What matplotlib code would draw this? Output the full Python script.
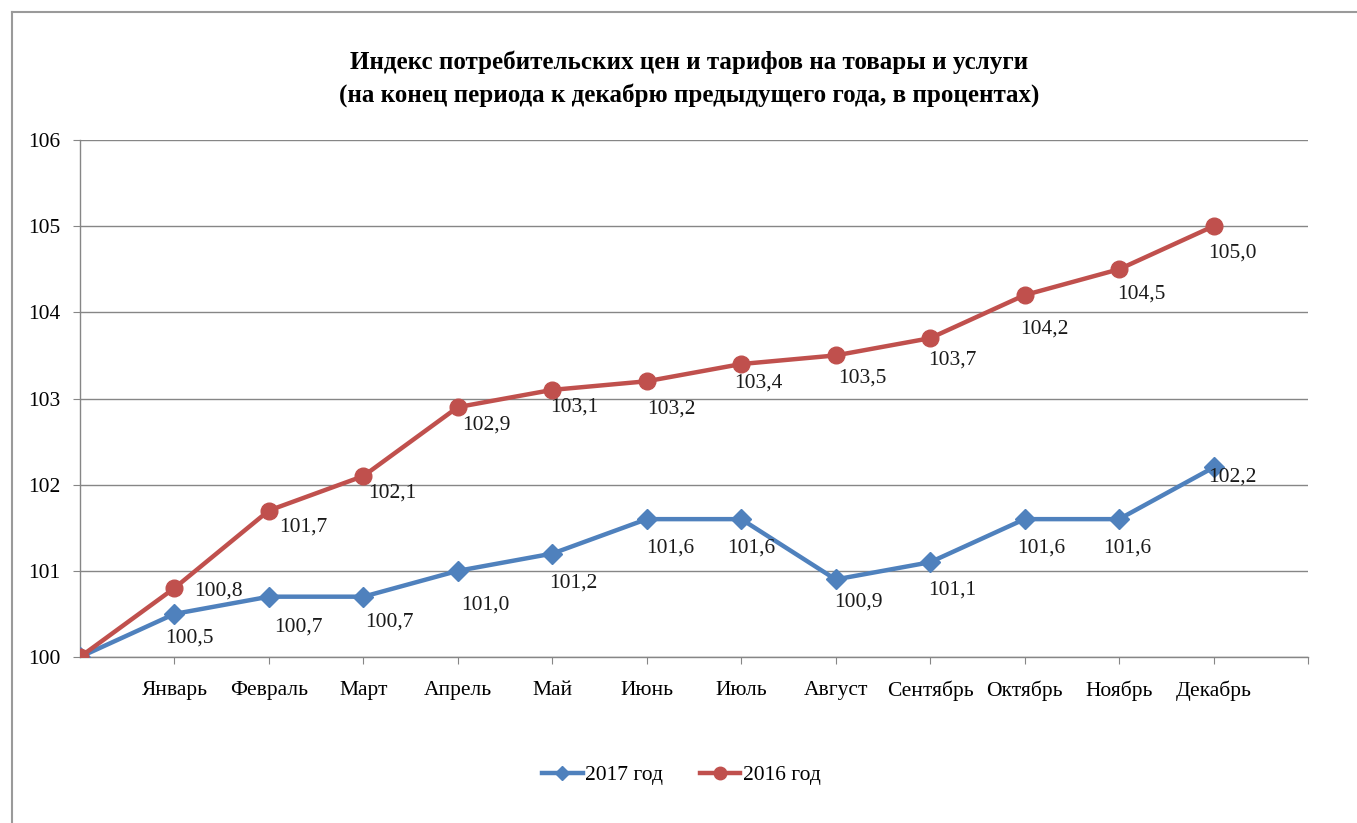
import matplotlib.pyplot as plt
from matplotlib.lines import Line2D

plt.rcParams['font.family'] = ['Liberation Serif', 'DejaVu Serif']

months = ['Январь', 'Февраль', 'Март', 'Апрель', 'Май', 'Июнь',
          'Июль', 'Август', 'Сентябрь', 'Октябрь', 'Ноябрь', 'Декабрь']
y2017 = [100.0, 100.5, 100.7, 100.7, 101.0, 101.2, 101.6, 101.6, 100.9, 101.1, 101.6, 101.6, 102.2]
y2016 = [100.0, 100.8, 101.7, 102.1, 102.9, 103.1, 103.2, 103.4, 103.5, 103.7, 104.2, 104.5, 105.0]

# label offsets in pixels (dx, dy), one per month
off2017 = [(15, -24), (29, -30), (26, -25), (28, -34), (21, -29), (23, -29),
           (10, -29), (23, -23), (22, -28), (17, -29), (8, -29), (19, -10)]
off2016 = [(44, -3), (34, -17), (29, -17), (29, -18), (22, -17), (25, -28),
           (17, -19), (27, -23), (22, -22), (20, -34), (22, -25), (19, -27)]

blue = '#4F81BD'
red = '#C0504D'
grid = '#868686'
fs = 15.5

fig = plt.figure(figsize=(13.57, 8.23), dpi=100)
ax = fig.add_axes([80/1357, 1-657/823, 1228/1357, 517/823])

x = list(range(len(y2017)))
ax.plot(x, y2017, color=blue, lw=3.2, marker='D', ms=10, zorder=3, label='2017 год')
ax.plot(x, y2016, color=red, lw=3.2, marker='o', ms=12, zorder=4, label='2016 год')

for i in range(1, len(x)):
    ax.annotate(f'{y2017[i]:.1f}'.replace('.', ','), (x[i], y2017[i]),
                xytext=off2017[i-1], textcoords='offset pixels',
                ha='center', va='center', fontsize=fs, color='#1a1a1a')
    ax.annotate(f'{y2016[i]:.1f}'.replace('.', ','), (x[i], y2016[i]),
                xytext=off2016[i-1], textcoords='offset pixels',
                ha='center', va='center', fontsize=fs, color='#1a1a1a')

ax.set_xlim(0, 13)
ax.set_ylim(100, 106)
ax.set_yticks(range(100, 107))
ax.set_xticks(range(1, 14))
ax.set_xticklabels(months + [''])
ax.tick_params(axis='x', length=5, color=grid, labelsize=fs, pad=12)
ax.tick_params(axis='y', length=5, color=grid, labelsize=fs, pad=9)
ax.grid(axis='y', color=grid, lw=1)
ax.set_axisbelow(True)
for s in ['top', 'right']:
    ax.spines[s].set_visible(False)
for s in ['left', 'bottom']:
    ax.spines[s].set_color(grid)
    ax.spines[s].set_linewidth(1)

fig.text(0.508, 1-62/823, 'Индекс потребительских цен и тарифов на товары и услуги',
         ha='center', va='center', fontsize=18, fontweight='bold')
fig.text(0.508, 1-95/823, '(на конец периода к декабрю предыдущего года, в процентах)',
         ha='center', va='center', fontsize=18, fontweight='bold')

handles = [Line2D([0], [0], color=blue, lw=3.2, marker='D', ms=7),
           Line2D([0], [0], color=red, lw=3.2, marker='o', ms=9)]
fig.legend(handles, ['2017 год', '2016 год'], loc='center', bbox_to_anchor=(0.502, 1-775/823),
           ncol=2, frameon=False, fontsize=fs, handlelength=1.9, handletextpad=0.1,
           columnspacing=1.7)

# outer chart frame
fig.add_artist(Line2D([12/1357, 1], [1-12/823, 1-12/823], color='#9a9a9a', lw=1.5))
fig.add_artist(Line2D([12/1357, 12/1357], [0, 1-12/823], color='#9a9a9a', lw=1.5))

fig.savefig('out.png', dpi=100)
